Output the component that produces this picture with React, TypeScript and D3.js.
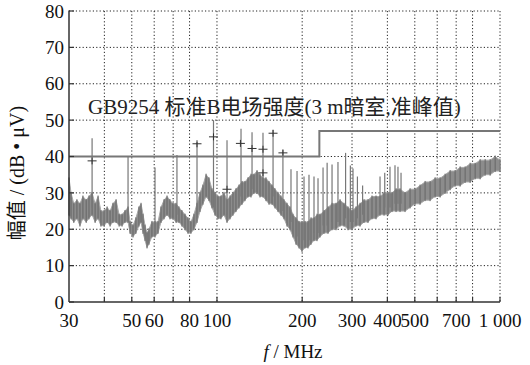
import React from "react";
import * as d3 from "d3";

const yTicks = [0, 10, 20, 30, 40, 50, 60, 70, 80];
const xGrid = [40, 50, 60, 70, 80, 100, 200, 300, 400, 500, 600, 700, 800, 1000];
const xTickLabels = [30, 50, 60, 80, 100, 200, 300, 400, 500, 700, 1000];

const limitFreq = [30, 230, 230, 1000];
const limitLevel = [40, 40, 47, 47];

const bandFreq = [30.0, 30.5, 31.2, 32.0, 32.8, 33.6, 34.5, 35.3, 36.2, 37.1, 38.0, 38.9, 39.9, 40.9, 41.9, 42.9, 44.0, 45.1, 46.2, 47.3, 48.5, 49.3, 50.5, 51.7, 53.0, 53.9, 54.8, 55.7, 56.6, 57.5, 58.9, 60.4, 61.9, 63.4, 65.0, 66.6, 68.2, 69.9, 71.7, 73.4, 75.2, 77.1, 79.0, 80.9, 82.9, 85.0, 87.1, 89.2, 91.5, 93.7, 96.0, 98.4, 100.8, 103.3, 105.9, 108.5, 111.2, 113.9, 116.7, 119.6, 122.6, 125.6, 128.7, 131.9, 135.1, 138.5, 141.9, 145.4, 149.0, 152.7, 156.5, 160.3, 164.3, 168.3, 172.5, 176.8, 181.1, 185.6, 190.2, 194.9, 199.7, 204.7, 209.7, 214.9, 220.2, 225.7, 231.2, 238.9, 246.8, 255.0, 263.4, 272.1, 281.1, 290.4, 300, 309.9, 320.2, 330.8, 341.7, 353.0, 364.7, 376.8, 389.3, 402.1, 415.5, 429.2, 443.4, 461.9, 481.1, 501.1, 521.9, 543.6, 566.2, 589.7, 614.2, 639.8, 666.4, 694.1, 722.9, 753.0, 784.3, 816.9, 850.8, 886.2, 923.0, 961.4, 1000];
const bandLow = [24, 23, 22, 23, 21, 23, 22, 23, 24, 22, 23, 21, 21, 22, 21, 22, 22, 21, 21, 22, 22, 19, 18, 19, 21, 22, 19, 17, 15, 16, 18, 18, 19, 22, 23, 24, 23, 23, 22, 22, 21, 20, 19, 19, 20, 22, 25, 27, 29, 28, 26, 24, 23, 23, 24, 22, 23, 24, 25, 26, 27, 28, 29, 29, 30, 30, 29, 29, 28, 27, 27, 26, 25, 24, 23, 21, 20, 18, 16, 15, 14, 15, 15, 16, 17, 17, 18, 19, 19, 20, 20, 21, 21, 20, 20, 21, 21, 22, 22, 23, 23, 24, 24, 24, 25, 25, 25, 25, 26, 27, 27, 28, 28, 29, 29, 30, 31, 32, 32, 33, 33, 34, 34, 35, 35, 36, 36];
const bandHigh = [34, 30, 27, 28, 27, 29, 28, 29, 30, 27, 29, 25, 25, 26, 25, 27, 28, 24, 24, 25, 26, 22, 21, 23, 26, 27, 24, 21, 19, 20, 22, 22, 22, 26, 28, 29, 28, 27, 27, 26, 25, 24, 23, 22, 24, 27, 30, 32, 35, 34, 31, 30, 29, 29, 30, 28, 29, 30, 31, 32, 33, 33, 34, 35, 35, 36, 35, 34, 34, 33, 32, 31, 30, 29, 28, 27, 26, 24, 23, 22, 22, 22, 22, 23, 23, 24, 24, 25, 26, 27, 27, 28, 27, 26, 25, 26, 27, 28, 28, 29, 29, 29, 30, 30, 30, 31, 31, 30, 31, 31, 32, 33, 33, 34, 34, 35, 36, 36, 37, 37, 38, 38, 39, 39, 39, 40, 39];

const spikeFreq = [36.2, 48.5, 60.4, 72.2, 85.0, 97.2, 108.5, 121.6, 133, 145.4, 157.8, 171, 182.6, 191.8, 203, 211.4, 220.2, 227.5, 237, 245, 255, 267.6, 284.7, 296, 302.4, 313.5, 327, 376.8, 391.5, 408.6, 425.6, 436, 447];
const spikeTop = [45, 40, 37, 40.4, 44, 50, 44.5, 47.6, 46.7, 46.5, 47.3, 41.8, 36.5, 36, 34.5, 35, 34.5, 34, 37, 38.3, 37.8, 38.5, 41, 37.5, 36.7, 34.5, 32, 34.5, 35.5, 37.2, 37.6, 37.2, 35.5];

const crossFreq = [36.2, 85.0, 97.2, 108.5, 121.0, 133, 145.4, 145.4, 157.8, 171];
const crossLevel = [38.8, 43.5, 45.4, 31, 43.6, 42.2, 42, 35.5, 46.4, 41];

const W = 530, H = 365;
const L = 69, R = 500, T = 11, B = 302;
const serif = "'Liberation Serif', 'Times New Roman', 'Noto Sans CJK SC', serif";

export default function App() {
  const x = d3.scaleLog().domain([30, 1000]).range([L, R]);
  const y = d3.scaleLinear().domain([0, 80]).range([B, T]);

  const band = bandFreq.map((f, i) => ({ f, lo: bandLow[i], hi: bandHigh[i] }));
  const areaGen = d3.area<any>().x((d) => x(d.f)).y0((d) => y(d.lo)).y1((d) => y(d.hi));
  const bis = d3.bisector((d: any) => d.f).center;

  const limitPath = d3.line<number>().x((d) => x(d)).y((_, i) => y(limitLevel[i]))(limitFreq) || "";

  return (
    <svg width={W} height={H} style={{ position: "absolute", left: 0, top: 0, background: "#fff" }}>
      <rect width={W} height={H} fill="#fff" />
      {yTicks.filter((t) => t > 0).map((t) => (
        <line key={"gy" + t} x1={L} x2={R} y1={y(t)} y2={y(t)} stroke="#222" strokeWidth={1} strokeDasharray="1.2,2.2" />
      ))}
      {xGrid.map((t) => (
        <line key={"gx" + t} x1={x(t)} x2={x(t)} y1={T} y2={B} stroke="#222" strokeWidth={1} strokeDasharray="1.2,2.2" />
      ))}
      <path d={areaGen(band) || ""} fill="#8c8c8c" stroke="#a8a8a8" strokeWidth={1} />
      {band.map((d, i) => (
        <line key={"v" + i} x1={x(d.f)} x2={x(d.f)} y1={y(d.lo) + 1} y2={y(d.hi) - 1} stroke="#666" strokeWidth={1} />
      ))}
      {spikeFreq.map((f, i) => {
        const b = band[bis(band, f)];
        return <line key={"s" + i} x1={x(f)} x2={x(f)} y1={y(b.lo + 2)} y2={y(spikeTop[i])} stroke="#777" strokeWidth={1.2} />;
      })}
      {crossFreq.map((f, i) => (
        <g key={"c" + i} stroke="#333" strokeWidth={1}>
          <line x1={x(f) - 4.5} x2={x(f) + 4.5} y1={y(crossLevel[i])} y2={y(crossLevel[i])} />
          <line x1={x(f)} x2={x(f)} y1={y(crossLevel[i]) - 3.5} y2={y(crossLevel[i]) + 3.5} />
        </g>
      ))}
      <path d={limitPath} fill="none" stroke="#777" strokeWidth={2} />
      <line x1={L} x2={L} y1={T - 0.5} y2={B} stroke="#333" strokeWidth={1.5} />
      <line x1={L} x2={R} y1={B} y2={B} stroke="#333" strokeWidth={1.5} />
      {xGrid.map((t) => (
        <line key={"tx" + t} x1={x(t)} x2={x(t)} y1={B} y2={B - 5} stroke="#333" strokeWidth={1.2} />
      ))}
      {yTicks.map((t) => (
        <line key={"ty" + t} x1={L} x2={L + 5} y1={y(t)} y2={y(t)} stroke="#333" strokeWidth={1.2} />
      ))}
      {yTicks.map((t) => (
        <text key={"ly" + t} x={L - 5} y={y(t)} dy="0.35em" textAnchor="end" fontFamily={serif} fontSize={19} fill="#111">
          {t}
        </text>
      ))}
      {xTickLabels.map((t) => (
        <text key={"lx" + t} x={x(t)} y={327} textAnchor="middle" fontFamily={serif} fontSize={19} fill="#111">
          {t === 1000 ? "1 000" : t}
        </text>
      ))}
      <text x={293} y={358} textAnchor="middle" fontFamily={serif} fontSize={19} fill="#111">
        <tspan fontStyle="italic">f</tspan>
        <tspan> / MHz</tspan>
      </text>
      <text transform={`translate(24,173) rotate(-90)`} textAnchor="middle" fontFamily={serif} fontSize={20} fill="#111">
        幅值 / (dB • μV)
      </text>
      <text x={88} y={114} fontFamily={serif} fontSize={21} fill="#222">
        GB9254 标准B电场强度(3 m暗室,准峰值)
      </text>
    </svg>
  );
}
